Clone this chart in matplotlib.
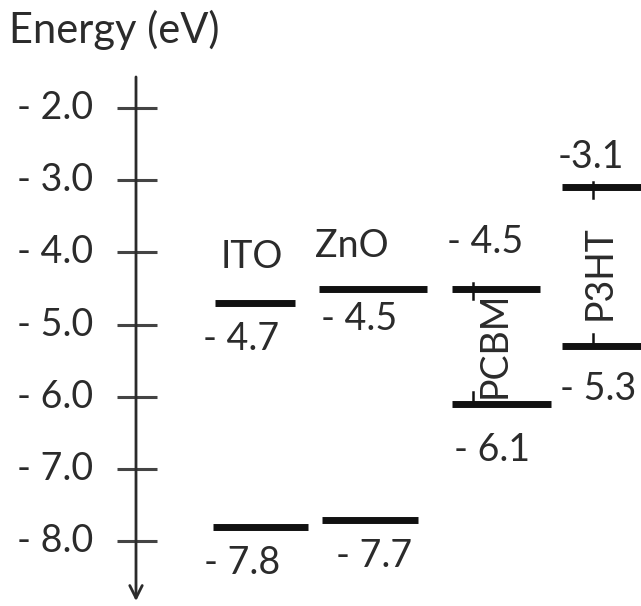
import matplotlib
matplotlib.use("Agg")
import matplotlib.pyplot as plt

plt.rcParams['font.family'] = ['Lato', 'DejaVu Sans']

# Energy axis ticks (eV)
tick_values = [-2.0, -3.0, -4.0, -5.0, -6.0, -7.0, -8.0]
tick_labels = ["- 2.0", "- 3.0", "- 4.0", "- 5.0", "- 6.0", "- 7.0", "- 8.0"]

# Materials and their band levels (eV)
materials = ["ITO", "ZnO", "PCBM", "P3HT"]
upper_levels = [-4.7, -4.5, -4.5, -3.1]
lower_levels = [-7.8, -7.7, -6.1, -5.3]
upper_labels = ["- 4.7", "- 4.5", "- 4.5", "-3.1"]
lower_labels = ["- 7.8", "- 7.7", "- 6.1", "- 5.3"]

W, H = 641, 606
fig = plt.figure(figsize=(W / 100, H / 100), dpi=100)
ax = fig.add_axes([0, 0, 1, 1])
px_per_ev = 72.2
y_top = -2.0 + 108 / px_per_ev
y_bot = -2.0 - (H - 108) / px_per_ev
ax.set_xlim(0, W)
ax.set_ylim(y_bot, y_top)
ax.axis("off")

ink = "#2b2b2b"
bar_col = "#111111"
fs = 27

# vertical energy axis with downward arrow
ax.annotate("", xy=(136, -8.83), xytext=(136, -1.57),
            arrowprops=dict(arrowstyle="->,head_length=0.9,head_width=0.45",
                            color=ink, lw=2.0, shrinkA=0, shrinkB=0))
for v, lab in zip(tick_values, tick_labels):
    ax.plot([117, 157], [v, v], color="#444444", lw=2.2, solid_capstyle="butt")
    ax.text(93, v, lab, ha="right", va="center", fontsize=fs, color=ink)

ax.text(9, -2.0 + 65 / px_per_ev, "Energy (eV)", ha="left", va="baseline",
        fontsize=30, color=ink)

# column layout (pixel x-extents of the level bars)
upper_x = [(215, 295), (319, 427), (452, 540), (562, 641)]
lower_x = [(213, 308), (322, 418), (452, 551), (562, 641)]

for (x0, x1), v in zip(upper_x, upper_levels):
    ax.plot([x0, x1], [v, v], color=bar_col, lw=5, solid_capstyle="butt")
for (x0, x1), v in zip(lower_x, lower_levels):
    ax.plot([x0, x1], [v, v], color=bar_col, lw=5, solid_capstyle="butt")

# short vertical edges of the organic band boxes
for xm, up, lo in [(473, upper_levels[2], lower_levels[2]),
                   (593, upper_levels[3], lower_levels[3])]:
    ax.plot([xm, xm], [up + 0.08, up - 0.15], color=bar_col, lw=1.8)
    ax.plot([xm, xm], [lo + 0.17, lo], color=bar_col, lw=1.8)

def ev(ypx):
    return -2.0 - (ypx - 108) / px_per_ev

# value labels
upper_pos = [(241, 339), (359, 319), (485, 242), (591, 157)]
lower_pos = [(242, 563), (374, 556), (492, 450), (598, 389)]
for (x, y), t in zip(upper_pos, upper_labels):
    ax.text(x, ev(y), t, ha="center", va="center", fontsize=fs, color=ink)
for (x, y), t in zip(lower_pos, lower_labels):
    ax.text(x, ev(y), t, ha="center", va="center", fontsize=fs, color=ink)

# material names
name_pos = [(252, 257, 0), (352, 246, 0), (495, 345, 90), (600, 273, 90)]
for (x, y, rot), name in zip(name_pos, materials):
    ax.text(x, ev(y), name, ha="center", va="center", fontsize=fs,
            rotation=rot, color=ink)

fig.savefig("out.png", dpi=100, facecolor="white")
